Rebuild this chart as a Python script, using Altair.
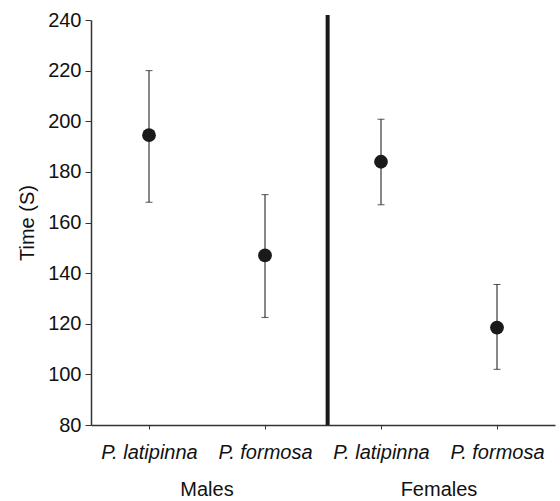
import altair as alt
import pandas as pd

species = ["P. latipinna", "P. formosa", "P. latipinna", "P. formosa"]
sex = ["Males", "Males", "Females", "Females"]
pos = [1, 2, 3, 4]
mean = [194.5, 147, 184, 118.5]
upper = [220, 171, 200.8, 135.5]
lower = [168, 122.5, 167, 102]

groups = ["Males", "Females"]
group_pos = [1.5, 3.5]
divider_pos = [2.54]

df = pd.DataFrame({"pos": pos, "species": species, "sex": sex,
                   "mean": mean, "upper": upper, "lower": lower})
gdf = pd.DataFrame({"pos": group_pos, "group": groups})
ddf = pd.DataFrame({"pos": divider_pos, "y1": [80], "y2": [242]})

label_expr = "datum.value == 1 || datum.value == 3 ? 'P. latipinna' : 'P. formosa'"

FONT = "Liberation Sans"
FS = 20

xscale = alt.Scale(domain=[0.5, 4.5], nice=False, zero=False)
yscale = alt.Scale(domain=[80, 240], nice=False, zero=False)

xaxis = alt.Axis(values=pos, labelExpr=label_expr, title=None, grid=False,
                 labelFontStyle="italic", labelFontSize=FS, labelFont=FONT,
                 labelColor="#111", labelPadding=13, tickSize=4, tickColor="#333",
                 domainColor="#333", domainWidth=1.5, labelFlush=False)
yaxis = alt.Axis(values=[80, 100, 120, 140, 160, 180, 200, 220, 240], title="Time (S)",
                 grid=False, labelFontSize=FS, labelFont=FONT, labelColor="#111",
                 titleFontSize=FS, titleFont=FONT, titleFontWeight="normal",
                 titleColor="#111", titlePadding=10, tickSize=6, tickColor="#333",
                 domainColor="#333", domainWidth=1.5, labelPadding=4)

base = alt.Chart(df)

err = base.mark_errorbar(ticks=alt.MarkConfig(size=7, color="#111"), color="#111", thickness=1).encode(
    x=alt.X("pos:Q", scale=xscale, axis=xaxis),
    y=alt.Y("lower:Q", scale=yscale, axis=yaxis),
    y2="upper:Q",
)

pts = base.mark_point(filled=True, size=190, color="#1a1a1a", opacity=1).encode(
    x=alt.X("pos:Q", scale=xscale),
    y=alt.Y("mean:Q", scale=yscale),
)

divider = alt.Chart(ddf).mark_rule(strokeWidth=4, color="#1a1a1a", clip=False).encode(
    x=alt.X("pos:Q", scale=xscale),
    y=alt.Y("y1:Q", scale=yscale),
    y2="y2:Q",
)

glabels = alt.Chart(gdf).mark_text(fontSize=FS, font=FONT, color="#111",
                                   baseline="alphabetic").encode(
    x=alt.X("pos:Q", scale=xscale),
    y=alt.value(476),
    text="group:N",
)

chart = alt.layer(err, divider, pts, glabels).properties(
    width=464, height=405,
    autosize=alt.AutoSizeParams(type="none"),
    padding={"left": 91, "top": 20, "right": 5, "bottom": 76},
).configure(background="white").configure_view(stroke=None, strokeWidth=0)

chart.save("out.html", embed_options={"renderer": "svg", "actions": False})
